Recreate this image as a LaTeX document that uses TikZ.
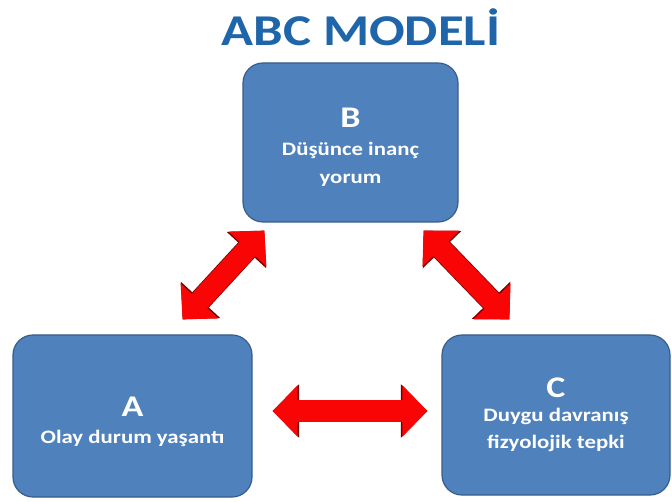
\documentclass[tikz,border=0pt]{standalone}
\usepackage{fontspec}
\setmainfont{Carlito}
\usetikzlibrary{arrows.meta,positioning}
\definecolor{TitleBlue}{RGB}{31,101,170}
\definecolor{BoxBlue}{RGB}{79,129,189}
\definecolor{BoxEdge}{RGB}{56,93,138}
\definecolor{ArrowRed}{RGB}{250,5,5}
\newcommand{\wide}[1]{\scalebox{1.2}[1]{#1}}
\newcommand{\letter}[2][0pt]{{\fontsize{30}{30}\selectfont\rule{0pt}{#1}\wide{#2}}}

\begin{document}
\begin{tikzpicture}[x=1pt, y=-1pt,
  box/.style={draw=BoxEdge, line width=1.2pt, rounded corners=20pt, fill=BoxBlue,
              text=white, align=center, font=\bfseries\fontsize{19}{24}\selectfont, inner sep=0pt},
  dbl/.style={{Triangle[width=50pt,length=25pt]}-{Triangle[width=50pt,length=25pt]},
              line width=21pt, ArrowRed,
              preaction={draw=red!45!black, line width=22.5pt,
                         {Triangle[width=52pt,length=26.5pt]}-{Triangle[width=52pt,length=26.5pt]}}}]
  \useasboundingbox[fill=white] (0,0) rectangle (672,502);
  \node[text=TitleBlue, font=\bfseries\fontsize{44}{48}\selectfont] (title) at (361,27) {\wide{ABC MODEL\.I}};
  \node[box, minimum width=215pt, minimum height=159pt] (b) at (350.5,142.5)
    {\letter[29pt]{B}\\[4pt]\wide{Düşünce inanç}\\[4pt]\wide{yorum}};
  \node[box, minimum width=239pt, minimum height=162pt] (a) at (132.5,416)
    {\letter[31pt]{A}\\[3pt]\wide{Olay durum yaşantı}};
  \node[box, minimum width=228pt, minimum height=160pt] (c) at (556,415)
    {\letter{C}\\[0pt]\wide{Duygu davranış}\\[3pt]\wide{fizyolojik tepki}};
  \draw[dbl] ([xshift=-70pt,yshift=15pt]a.north east) -- ([xshift=22pt,yshift=-8pt]b.south west);
  \draw[dbl] ([xshift=-35pt,yshift=-8pt]b.south east) -- ([xshift=68pt,yshift=15pt]c.north west);
  \draw[dbl] ([xshift=20pt,yshift=5pt]a.east) -- ([xshift=-14pt,yshift=4pt]c.west);
\end{tikzpicture}
\end{document}
